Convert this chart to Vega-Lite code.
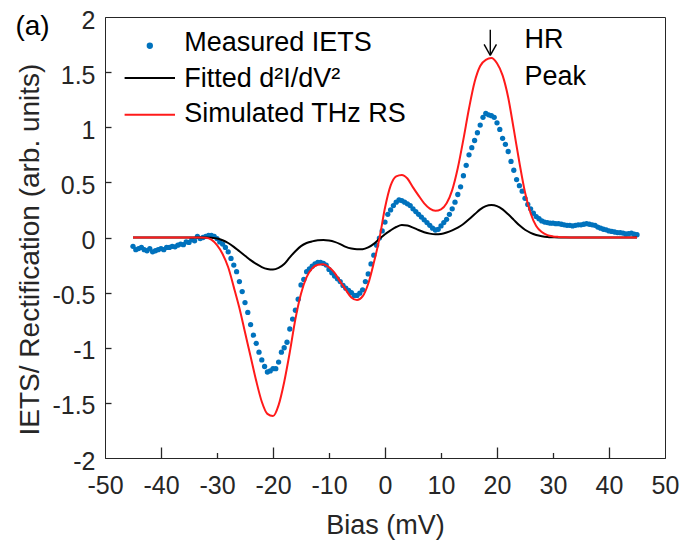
{
  "$schema": "https://vega.github.io/schema/vega-lite/v6.json",
  "width": 560,
  "height": 441,
  "autosize": "none",
  "padding": {"left": 105, "top": 17, "right": 21, "bottom": 86},
  "background": "white",
  "datasets": {
    "measured": [
      {"bias": -45, "value": -0.08}, {"bias": -44.5, "value": -0.11}, {"bias": -44, "value": -0.10}, {"bias": -43.5, "value": -0.09},
      {"bias": -43, "value": -0.11}, {"bias": -42.5, "value": -0.12}, {"bias": -42, "value": -0.10}, {"bias": -41.5, "value": -0.13},
      {"bias": -41, "value": -0.12}, {"bias": -40.5, "value": -0.11}, {"bias": -40, "value": -0.10}, {"bias": -39.5, "value": -0.11},
      {"bias": -39, "value": -0.09}, {"bias": -38.5, "value": -0.09}, {"bias": -38, "value": -0.08}, {"bias": -37.5, "value": -0.085},
      {"bias": -37, "value": -0.07}, {"bias": -36.5, "value": -0.06}, {"bias": -36, "value": -0.065}, {"bias": -35.5, "value": -0.04},
      {"bias": -35, "value": -0.045}, {"bias": -34.5, "value": -0.02}, {"bias": -34, "value": -0.03}, {"bias": -33.5, "value": 0.01},
      {"bias": -33, "value": -0.01}, {"bias": -32.5, "value": 0.0}, {"bias": -32, "value": 0.01}, {"bias": -31.5, "value": 0.02},
      {"bias": -31, "value": 0.02}, {"bias": -30.5, "value": 0.01}, {"bias": -30, "value": -0.01}, {"bias": -29.5, "value": -0.04},
      {"bias": -29, "value": -0.06}, {"bias": -28.5, "value": -0.09}, {"bias": -28, "value": -0.13}, {"bias": -27.5, "value": -0.19},
      {"bias": -27, "value": -0.25}, {"bias": -26.5, "value": -0.31}, {"bias": -26, "value": -0.40}, {"bias": -25.5, "value": -0.49},
      {"bias": -25, "value": -0.59}, {"bias": -24.5, "value": -0.68}, {"bias": -24, "value": -0.79}, {"bias": -23.5, "value": -0.886},
      {"bias": -23, "value": -0.96}, {"bias": -22.5, "value": -1.04}, {"bias": -22, "value": -1.11}, {"bias": -21.5, "value": -1.17},
      {"bias": -21, "value": -1.22}, {"bias": -20.5, "value": -1.21}, {"bias": -20, "value": -1.19}, {"bias": -19.5, "value": -1.19},
      {"bias": -19, "value": -1.13}, {"bias": -18.5, "value": -1.04}, {"bias": -18, "value": -1.0}, {"bias": -17.5, "value": -0.95},
      {"bias": -17, "value": -0.83}, {"bias": -16.5, "value": -0.74}, {"bias": -16, "value": -0.66}, {"bias": -15.5, "value": -0.56},
      {"bias": -15, "value": -0.43}, {"bias": -14.5, "value": -0.38}, {"bias": -14, "value": -0.31}, {"bias": -13.5, "value": -0.285},
      {"bias": -13, "value": -0.26}, {"bias": -12.5, "value": -0.24}, {"bias": -12, "value": -0.225}, {"bias": -11.5, "value": -0.225},
      {"bias": -11, "value": -0.235}, {"bias": -10.5, "value": -0.25}, {"bias": -10, "value": -0.29}, {"bias": -9.5, "value": -0.32},
      {"bias": -9, "value": -0.35}, {"bias": -8.5, "value": -0.375}, {"bias": -8, "value": -0.40}, {"bias": -7.5, "value": -0.435},
      {"bias": -7, "value": -0.46}, {"bias": -6.5, "value": -0.48}, {"bias": -6, "value": -0.50}, {"bias": -5.5, "value": -0.525},
      {"bias": -5, "value": -0.525}, {"bias": -4.5, "value": -0.505}, {"bias": -4, "value": -0.475}, {"bias": -3.5, "value": -0.40},
      {"bias": -3, "value": -0.33}, {"bias": -2.5, "value": -0.24}, {"bias": -2, "value": -0.16}, {"bias": -1.5, "value": -0.07},
      {"bias": -1, "value": -0.005}, {"bias": -0.5, "value": 0.06}, {"bias": 0, "value": 0.14}, {"bias": 0.5, "value": 0.21},
      {"bias": 1, "value": 0.25}, {"bias": 1.5, "value": 0.29}, {"bias": 2, "value": 0.32}, {"bias": 2.5, "value": 0.34},
      {"bias": 3, "value": 0.335}, {"bias": 3.5, "value": 0.32}, {"bias": 4, "value": 0.305}, {"bias": 4.5, "value": 0.29},
      {"bias": 5, "value": 0.26}, {"bias": 5.5, "value": 0.235}, {"bias": 6, "value": 0.21}, {"bias": 6.5, "value": 0.185},
      {"bias": 7, "value": 0.16}, {"bias": 7.5, "value": 0.135}, {"bias": 8, "value": 0.11}, {"bias": 8.5, "value": 0.085},
      {"bias": 9, "value": 0.068}, {"bias": 9.5, "value": 0.074}, {"bias": 10, "value": 0.105}, {"bias": 10.5, "value": 0.135},
      {"bias": 11, "value": 0.165}, {"bias": 11.5, "value": 0.21}, {"bias": 12, "value": 0.26}, {"bias": 12.5, "value": 0.32},
      {"bias": 13, "value": 0.39}, {"bias": 13.5, "value": 0.46}, {"bias": 14, "value": 0.56}, {"bias": 14.5, "value": 0.655},
      {"bias": 15, "value": 0.75}, {"bias": 15.5, "value": 0.815}, {"bias": 16, "value": 0.88}, {"bias": 16.5, "value": 0.95},
      {"bias": 17, "value": 1.02}, {"bias": 17.5, "value": 1.09}, {"bias": 18, "value": 1.125}, {"bias": 18.5, "value": 1.113},
      {"bias": 19, "value": 1.105}, {"bias": 19.5, "value": 1.09}, {"bias": 20, "value": 1.04}, {"bias": 20.5, "value": 0.98},
      {"bias": 21, "value": 0.90}, {"bias": 21.5, "value": 0.845}, {"bias": 22, "value": 0.78}, {"bias": 22.5, "value": 0.69},
      {"bias": 23, "value": 0.61}, {"bias": 23.5, "value": 0.525}, {"bias": 24, "value": 0.47}, {"bias": 24.5, "value": 0.42},
      {"bias": 25, "value": 0.355}, {"bias": 25.5, "value": 0.30}, {"bias": 26, "value": 0.26}, {"bias": 26.5, "value": 0.22},
      {"bias": 27, "value": 0.19}, {"bias": 27.5, "value": 0.17}, {"bias": 28, "value": 0.15}, {"bias": 28.5, "value": 0.14},
      {"bias": 29, "value": 0.135}, {"bias": 29.5, "value": 0.13}, {"bias": 30, "value": 0.13}, {"bias": 30.5, "value": 0.125},
      {"bias": 31, "value": 0.125}, {"bias": 31.5, "value": 0.12}, {"bias": 32, "value": 0.115}, {"bias": 32.5, "value": 0.11},
      {"bias": 33, "value": 0.11}, {"bias": 33.5, "value": 0.105}, {"bias": 34, "value": 0.11}, {"bias": 34.5, "value": 0.115},
      {"bias": 35, "value": 0.115}, {"bias": 35.5, "value": 0.12}, {"bias": 36, "value": 0.125}, {"bias": 36.5, "value": 0.12},
      {"bias": 37, "value": 0.115}, {"bias": 37.5, "value": 0.11}, {"bias": 38, "value": 0.095}, {"bias": 38.5, "value": 0.085},
      {"bias": 39, "value": 0.075}, {"bias": 39.5, "value": 0.07}, {"bias": 40, "value": 0.06}, {"bias": 40.5, "value": 0.055},
      {"bias": 41, "value": 0.05}, {"bias": 41.5, "value": 0.045}, {"bias": 42, "value": 0.044}, {"bias": 42.5, "value": 0.04},
      {"bias": 43, "value": 0.032}, {"bias": 43.5, "value": 0.035}, {"bias": 44, "value": 0.04}, {"bias": 44.5, "value": 0.03},
      {"bias": 45, "value": 0.025}
    ],
    "fitted": [
      {"bias": -45, "value": 0}, {"bias": -44, "value": 0}, {"bias": -43, "value": 0}, {"bias": -42, "value": 0}, {"bias": -41, "value": 0},
      {"bias": -40, "value": 0}, {"bias": -39, "value": 0}, {"bias": -38, "value": 0}, {"bias": -37, "value": 0}, {"bias": -36, "value": 0},
      {"bias": -35, "value": 0}, {"bias": -34, "value": 0}, {"bias": -33, "value": 0}, {"bias": -32, "value": 0}, {"bias": -31, "value": -0.003},
      {"bias": -30, "value": -0.01}, {"bias": -29, "value": -0.025}, {"bias": -28, "value": -0.05}, {"bias": -27, "value": -0.085},
      {"bias": -26, "value": -0.125}, {"bias": -25, "value": -0.165}, {"bias": -24, "value": -0.205}, {"bias": -23, "value": -0.24},
      {"bias": -22, "value": -0.268}, {"bias": -21, "value": -0.285}, {"bias": -20, "value": -0.29}, {"bias": -19, "value": -0.275},
      {"bias": -18, "value": -0.24}, {"bias": -17, "value": -0.18}, {"bias": -16, "value": -0.125}, {"bias": -15, "value": -0.078},
      {"bias": -14, "value": -0.05}, {"bias": -13, "value": -0.035}, {"bias": -12, "value": -0.026}, {"bias": -11, "value": -0.023},
      {"bias": -10, "value": -0.028}, {"bias": -9, "value": -0.04}, {"bias": -8, "value": -0.06}, {"bias": -7, "value": -0.085},
      {"bias": -6, "value": -0.1}, {"bias": -5, "value": -0.107}, {"bias": -4, "value": -0.106}, {"bias": -3, "value": -0.09},
      {"bias": -2, "value": -0.058}, {"bias": -1, "value": -0.012}, {"bias": 0, "value": 0.03}, {"bias": 1, "value": 0.065},
      {"bias": 2, "value": 0.095}, {"bias": 3, "value": 0.113}, {"bias": 4, "value": 0.108}, {"bias": 5, "value": 0.09},
      {"bias": 6, "value": 0.068}, {"bias": 7, "value": 0.048}, {"bias": 8, "value": 0.035}, {"bias": 9, "value": 0.029},
      {"bias": 10, "value": 0.032}, {"bias": 11, "value": 0.045}, {"bias": 12, "value": 0.065}, {"bias": 13, "value": 0.09},
      {"bias": 14, "value": 0.122}, {"bias": 15, "value": 0.165}, {"bias": 16, "value": 0.21}, {"bias": 17, "value": 0.255},
      {"bias": 18, "value": 0.285}, {"bias": 19, "value": 0.295}, {"bias": 20, "value": 0.285}, {"bias": 21, "value": 0.255},
      {"bias": 22, "value": 0.21}, {"bias": 23, "value": 0.16}, {"bias": 24, "value": 0.11}, {"bias": 25, "value": 0.07},
      {"bias": 26, "value": 0.042}, {"bias": 27, "value": 0.023}, {"bias": 28, "value": 0.012}, {"bias": 29, "value": 0.005},
      {"bias": 30, "value": 0.002}, {"bias": 31, "value": 0}, {"bias": 32, "value": 0}, {"bias": 33, "value": 0}, {"bias": 34, "value": 0},
      {"bias": 35, "value": 0}, {"bias": 36, "value": 0}, {"bias": 37, "value": 0}, {"bias": 38, "value": 0}, {"bias": 39, "value": 0},
      {"bias": 40, "value": 0}, {"bias": 41, "value": 0}, {"bias": 42, "value": 0}, {"bias": 43, "value": 0}, {"bias": 44, "value": 0},
      {"bias": 45, "value": 0}
    ],
    "simulated": [
      {"bias": -45, "value": 0}, {"bias": -44, "value": 0}, {"bias": -43, "value": 0}, {"bias": -42, "value": 0}, {"bias": -41, "value": 0},
      {"bias": -40, "value": 0}, {"bias": -39, "value": 0}, {"bias": -38, "value": 0}, {"bias": -37, "value": 0}, {"bias": -36, "value": 0},
      {"bias": -35, "value": 0}, {"bias": -34, "value": 0}, {"bias": -33, "value": 0}, {"bias": -32, "value": -0.003}, {"bias": -31, "value": -0.02},
      {"bias": -30, "value": -0.07}, {"bias": -29, "value": -0.15}, {"bias": -28, "value": -0.27}, {"bias": -27, "value": -0.45},
      {"bias": -26, "value": -0.64}, {"bias": -25, "value": -0.86}, {"bias": -24, "value": -1.08}, {"bias": -23, "value": -1.30},
      {"bias": -22, "value": -1.49}, {"bias": -21, "value": -1.60}, {"bias": -20, "value": -1.62}, {"bias": -19, "value": -1.52},
      {"bias": -18, "value": -1.31}, {"bias": -17, "value": -1.04}, {"bias": -16, "value": -0.74}, {"bias": -15, "value": -0.51},
      {"bias": -14, "value": -0.36}, {"bias": -13, "value": -0.28}, {"bias": -12, "value": -0.248}, {"bias": -11, "value": -0.242},
      {"bias": -10, "value": -0.27}, {"bias": -9, "value": -0.32}, {"bias": -8, "value": -0.40}, {"bias": -7, "value": -0.475},
      {"bias": -6, "value": -0.545}, {"bias": -5, "value": -0.568}, {"bias": -4, "value": -0.535}, {"bias": -3, "value": -0.42},
      {"bias": -2, "value": -0.23}, {"bias": -1, "value": -0.01}, {"bias": 0, "value": 0.27}, {"bias": 1, "value": 0.47},
      {"bias": 2, "value": 0.555}, {"bias": 3, "value": 0.568}, {"bias": 4, "value": 0.535}, {"bias": 5, "value": 0.455},
      {"bias": 6, "value": 0.38}, {"bias": 7, "value": 0.31}, {"bias": 8, "value": 0.262}, {"bias": 9, "value": 0.242},
      {"bias": 10, "value": 0.255}, {"bias": 11, "value": 0.31}, {"bias": 12, "value": 0.43}, {"bias": 13, "value": 0.63},
      {"bias": 14, "value": 0.89}, {"bias": 15, "value": 1.17}, {"bias": 16, "value": 1.41}, {"bias": 17, "value": 1.555},
      {"bias": 18, "value": 1.612}, {"bias": 19, "value": 1.627}, {"bias": 20, "value": 1.58}, {"bias": 21, "value": 1.47},
      {"bias": 22, "value": 1.27}, {"bias": 23, "value": 0.98}, {"bias": 24, "value": 0.68}, {"bias": 25, "value": 0.41},
      {"bias": 26, "value": 0.22}, {"bias": 27, "value": 0.105}, {"bias": 28, "value": 0.05}, {"bias": 29, "value": 0.022},
      {"bias": 30, "value": 0.01}, {"bias": 31, "value": 0.005}, {"bias": 32, "value": 0.002}, {"bias": 33, "value": 0}, {"bias": 34, "value": 0},
      {"bias": 35, "value": 0}, {"bias": 36, "value": 0}, {"bias": 37, "value": 0}, {"bias": 38, "value": 0}, {"bias": 39, "value": 0},
      {"bias": 40, "value": 0}, {"bias": 41, "value": 0}, {"bias": 42, "value": 0}, {"bias": 43, "value": 0}, {"bias": 44, "value": 0},
      {"bias": 45, "value": 0}
    ],
    "one": [{}]
  },
  "layer": [
    {
      "data": {"name": "measured"},
      "mark": {"type": "point", "filled": true, "size": 28, "color": "#0072BD", "opacity": 1, "strokeWidth": 0},
      "encoding": {
        "x": {"field": "bias", "type": "quantitative",
              "scale": {"domain": [-50, 50], "nice": false, "zero": false},
              "axis": {"orient": "bottom", "values": [-50, -40, -30, -20, -10, 0, 10, 20, 30, 40, 50],
                       "labelExpr": "'' + datum.value", "ticks": false, "labelPadding": 15,
                       "labelFontSize": 25, "labelFlush": false, "labelOverlap": false,
                       "title": "Bias (mV)", "titleFontSize": 27, "titleX": 280, "titleY": 75,
                       "titleBaseline": "alphabetic", "titleAlign": "center"}},
        "y": {"field": "value", "type": "quantitative",
              "scale": {"domain": [-2, 2], "nice": false, "zero": false},
              "axis": {"orient": "left", "values": [-2, -1.5, -1, -0.5, 0, 0.5, 1, 1.5, 2],
                       "labelExpr": "'' + datum.value", "ticks": false, "labelPadding": 10,
                       "labelFontSize": 25, "labelFlush": false, "labelOverlap": false, "labelOffset": 3,
                       "title": "IETS/ Rectification (arb. units)", "titleFontSize": 28,
                       "titleX": -67, "titleY": 232, "titleAngle": 270, "titleBaseline": "alphabetic", "titleAlign": "center"}}
      }
    },
    {
      "data": {"name": "fitted"},
      "mark": {"type": "line", "color": "#000000", "strokeWidth": 2, "interpolate": "monotone"},
      "encoding": {
        "x": {"field": "bias", "type": "quantitative",
              "axis": {"orient": "bottom", "values": [-40, -20, 0, 20, 40], "offset": -11, "tickSize": 11, "tickWidth": 1.3, "labels": false, "domain": false, "title": null}},
        "y": {"field": "value", "type": "quantitative",
              "axis": {"orient": "left", "values": [-1.5, -1, -0.5, 0, 0.5, 1, 1.5], "offset": -6, "tickSize": 6, "tickWidth": 1.3, "labels": false, "domain": false, "title": null}}
      }
    },
    {
      "data": {"name": "simulated"},
      "mark": {"type": "line", "color": "#FF1A1A", "strokeWidth": 2, "interpolate": "monotone"},
      "encoding": {
        "x": {"field": "bias", "type": "quantitative",
              "axis": {"orient": "bottom", "values": [-30, -10, 10, 30], "offset": -5.5, "tickSize": 5.5, "tickWidth": 1.3, "labels": false, "domain": false, "title": null}},
        "y": {"field": "value", "type": "quantitative", "axis": null}
      }
    },
    {
      "data": {"name": "one"},
      "mark": {"type": "point", "filled": true, "size": 40, "color": "#0072BD", "opacity": 1, "strokeWidth": 0},
      "encoding": {"x": {"datum": -42.0, "axis": null}, "y": {"datum": 1.739, "axis": null}}
    },
    {
      "data": {"name": "one"},
      "mark": {"type": "rule", "color": "#000000", "strokeWidth": 2},
      "encoding": {"x": {"datum": -46.5, "axis": null}, "x2": {"datum": -37.5}, "y": {"datum": 1.446, "axis": null}}
    },
    {
      "data": {"name": "one"},
      "mark": {"type": "rule", "color": "#FF1A1A", "strokeWidth": 2},
      "encoding": {"x": {"datum": -46.5, "axis": null}, "x2": {"datum": -37.5}, "y": {"datum": 1.113, "axis": null}}
    },
    {
      "data": {"name": "one"},
      "mark": {"type": "text", "align": "left", "baseline": "alphabetic", "fontSize": 27, "font": "Liberation Sans", "color": "#000000"},
      "encoding": {"x": {"datum": -35.85, "axis": null}, "y": {"datum": 1.688, "axis": null}, "text": {"value": "Measured IETS"}}
    },
    {
      "data": {"name": "one"},
      "mark": {"type": "text", "align": "left", "baseline": "alphabetic", "fontSize": 27, "font": "Liberation Sans", "color": "#000000"},
      "encoding": {"x": {"datum": -35.85, "axis": null}, "y": {"datum": 1.361, "axis": null}, "text": {"value": "Fitted d²I/dV²"}}
    },
    {
      "data": {"name": "one"},
      "mark": {"type": "text", "align": "left", "baseline": "alphabetic", "fontSize": 27, "font": "Liberation Sans", "color": "#000000"},
      "encoding": {"x": {"datum": -35.85, "axis": null}, "y": {"datum": 1.052, "axis": null}, "text": {"value": "Simulated THz RS"}}
    },
    {
      "data": {"name": "one"},
      "mark": {"type": "text", "align": "left", "baseline": "alphabetic", "fontSize": 27, "font": "Liberation Sans", "color": "#000000"},
      "encoding": {"x": {"datum": 24.9, "axis": null}, "y": {"datum": 1.721, "axis": null}, "text": {"value": "HR"}}
    },
    {
      "data": {"name": "one"},
      "mark": {"type": "text", "align": "left", "baseline": "alphabetic", "fontSize": 27, "font": "Liberation Sans", "color": "#000000"},
      "encoding": {"x": {"datum": 24.9, "axis": null}, "y": {"datum": 1.385, "axis": null}, "text": {"value": "Peak"}}
    },
    {
      "data": {"name": "one"},
      "mark": {"type": "rule", "color": "#000000", "strokeWidth": 1.4},
      "encoding": {"x": {"datum": 18.8, "axis": null}, "y": {"datum": 1.885, "axis": null}, "y2": {"datum": 1.652}}
    },
    {
      "data": {"name": "one"},
      "mark": {"type": "rule", "color": "#000000", "strokeWidth": 1.4},
      "encoding": {"x": {"datum": 17.7, "axis": null}, "y": {"datum": 1.752, "axis": null}, "x2": {"datum": 18.8}, "y2": {"datum": 1.652}}
    },
    {
      "data": {"name": "one"},
      "mark": {"type": "rule", "color": "#000000", "strokeWidth": 1.4},
      "encoding": {"x": {"datum": 19.9, "axis": null}, "y": {"datum": 1.752, "axis": null}, "x2": {"datum": 18.8}, "y2": {"datum": 1.652}}
    },
    {
      "data": {"name": "one"},
      "mark": {"type": "text", "align": "left", "baseline": "alphabetic", "fontSize": 28, "font": "Liberation Sans", "color": "#000000"},
      "encoding": {"x": {"datum": -66.0, "axis": null}, "y": {"datum": 1.839, "axis": null}, "text": {"value": "(a)"}}
    }
  ],
  "resolve": {"axis": {"x": "independent", "y": "independent"}},
  "config": {
    "font": "Liberation Sans",
    "view": {"stroke": "#262626", "strokeWidth": 1},
    "axis": {
      "grid": false,
      "domainColor": "#262626", "domainWidth": 1,
      "tickColor": "#262626", "tickWidth": 1,
      "labelColor": "#262626", "titleColor": "#262626",
      "labelFont": "Liberation Sans", "titleFont": "Liberation Sans",
      "titleFontWeight": "normal"
    }
  }
}
